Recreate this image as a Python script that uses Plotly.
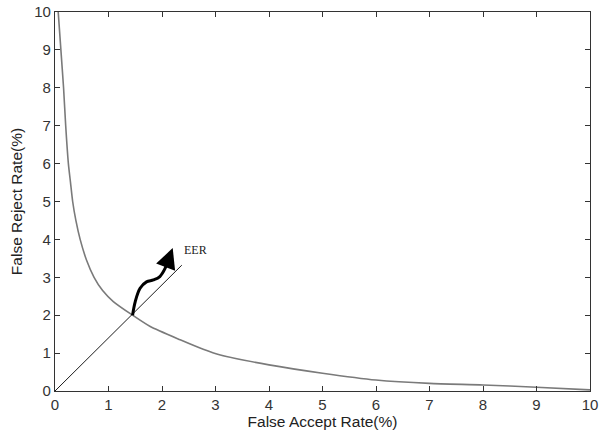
import plotly.graph_objects as go

# DET curve (False Accept Rate vs False Reject Rate), in %
far = [0.06, 0.11, 0.16, 0.20, 0.25, 0.29, 0.33, 0.39, 0.47, 0.59, 0.73, 0.89, 1.09, 1.45, 1.78, 2.34, 2.77, 3.09, 4.0, 5.0, 6.0, 7.0, 8.0, 9.0, 10.0]
frr = [10.0, 9.0, 8.0, 7.0, 6.0, 5.5, 5.0, 4.5, 4.0, 3.45, 3.0, 2.65, 2.36, 2.0, 1.7, 1.35, 1.1, 0.95, 0.69, 0.47, 0.29, 0.2, 0.16, 0.1, 0.03]

# EER diagonal
diag_x = [0.0, 2.37]
diag_y = [0.0, 3.32]

# curved arrow shaft
arrow_x = [1.45, 1.50, 1.59, 1.71, 1.84, 1.96, 2.06, 2.10]
arrow_y = [2.0, 2.36, 2.71, 2.88, 2.93, 3.02, 3.24, 3.40]
arrow_tip = (2.20, 3.77)

eer_label = "EER"
eer_pos = (2.37, 3.72)

ticks = list(range(0, 11))

fig = go.Figure()
fig.add_trace(go.Scatter(x=far, y=frr, mode="lines",
                         line=dict(color="#7a7a7a", width=1.6, shape="spline", smoothing=0.6),
                         showlegend=False))
fig.add_trace(go.Scatter(x=diag_x, y=diag_y, mode="lines",
                         line=dict(color="black", width=0.9), showlegend=False))
fig.add_trace(go.Scatter(x=arrow_x, y=arrow_y, mode="lines",
                         line=dict(color="black", width=3, shape="spline"), showlegend=False))

fig.add_annotation(x=arrow_tip[0], y=arrow_tip[1], ax=arrow_x[-2], ay=arrow_y[-2],
                   xref="x", yref="y", axref="x", ayref="y", text="",
                   showarrow=True, arrowhead=2, arrowsize=1.35, arrowwidth=3,
                   arrowcolor="black", standoff=0, startstandoff=0)
fig.add_annotation(x=eer_pos[0], y=eer_pos[1], xref="x", yref="y", text=eer_label,
                   showarrow=False, xanchor="left", yanchor="middle",
                   font=dict(family="Liberation Serif", size=12, color="#222"))

axis_common = dict(range=[0, 10], tickvals=ticks, ticks="inside", ticklen=5,
                   tickcolor="#333", showline=True, linecolor="#333", linewidth=1.2,
                   mirror="allticks", showgrid=False, zeroline=False, automargin=False,
                   tickfont=dict(family="Liberation Sans", size=15, color="#333"))

fig.update_xaxes(title=dict(text="False Accept Rate(%)", standoff=4,
                            font=dict(family="Liberation Sans", size=15.5, color="#222")),
                 **axis_common)
fig.update_yaxes(title=dict(text="False Reject Rate(%)", standoff=7,
                            font=dict(family="Liberation Sans", size=15.5, color="#222")),
                 **axis_common)

fig.update_layout(width=599, height=434, plot_bgcolor="white", paper_bgcolor="white",
                  margin=dict(l=55, r=9, t=12, b=43))

fig.write_html("out.html", config={"displayModeBar": False},
               post_script="document.body.style.margin='0';document.body.style.overflow='hidden';")
